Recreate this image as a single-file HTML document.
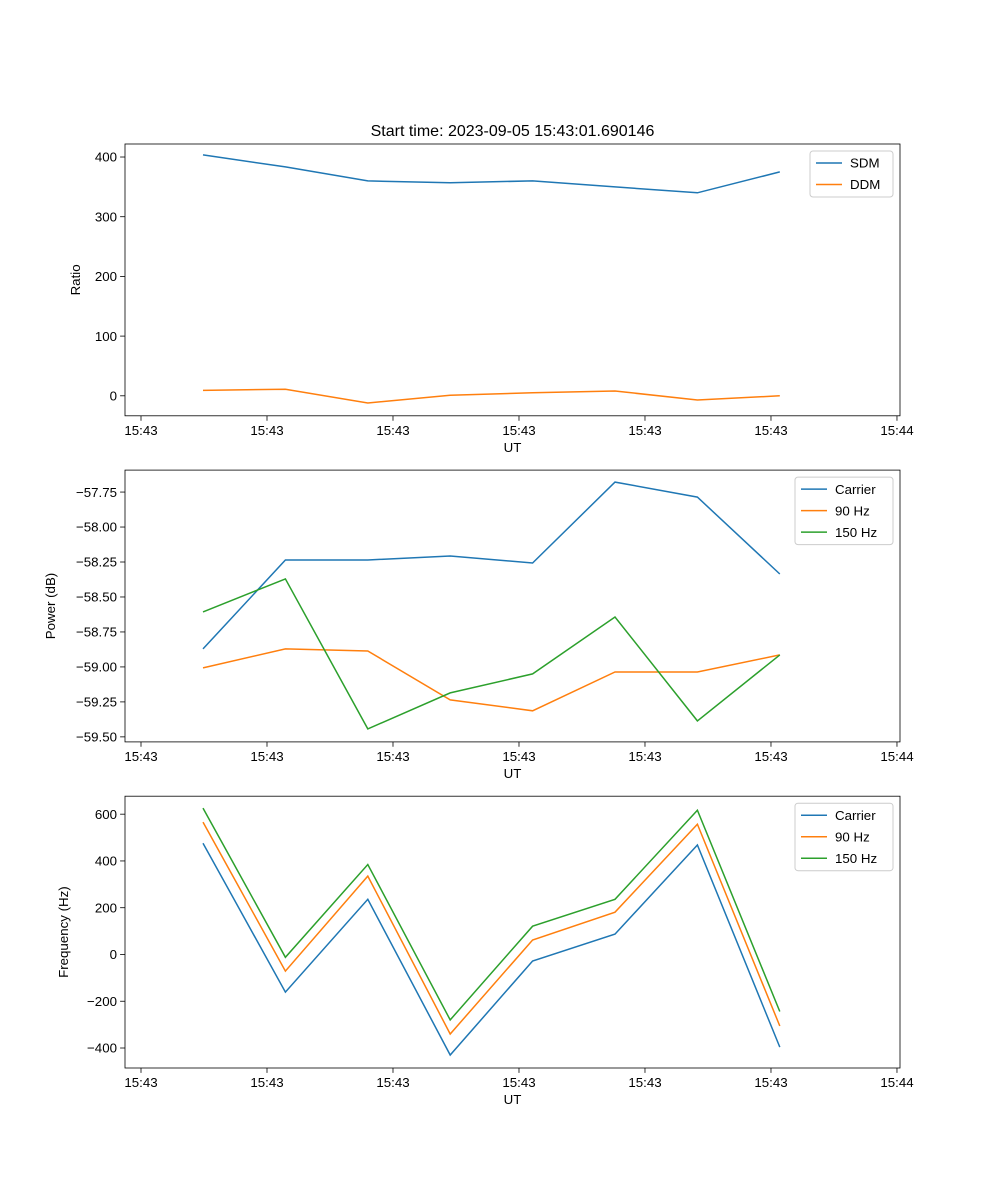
<!DOCTYPE html>
<html><head><meta charset="utf-8"><style>
body{margin:0;background:#fff}
svg{display:block;font-family:"Liberation Sans","DejaVu Sans",sans-serif}
</style></head><body>
<svg id="fig" width="1000" height="1200" viewBox="0 0 1000 1200" xmlns="http://www.w3.org/2000/svg">
<rect width="1000" height="1200" fill="#fff"/>
<text x="512.5" y="136" text-anchor="middle" font-size="16">Start time: 2023-09-05 15:43:01.690146</text>
</svg>
<script>
const xTickVals=[0,1,2,3,4,5,6];
const xTickLabels=["15:43","15:43","15:43","15:43","15:43","15:43","15:44"];
const xPoints=[0.492,1.146,1.800,2.454,3.108,3.762,4.416,5.070];
const sdm=[403.5,383.5,360,357,360,350,340,375];
const ddm=[9,11,-12,1,5,8,-7,0];
const ratioTicks=[0,100,200,300,400];
const powCarrier=[-58.871,-58.236,-58.236,-58.207,-58.257,-57.679,-57.786,-58.336];
const pow90=[-59.007,-58.871,-58.886,-59.236,-59.314,-59.036,-59.036,-58.914];
const pow150=[-58.607,-58.371,-59.443,-59.186,-59.050,-58.643,-59.386,-58.914];
const powTicks=[-59.5,-59.25,-59.0,-58.75,-58.5,-58.25,-58.0,-57.75];
const freqCarrier=[476,-161,236,-430,-28,87,468,-396];
const freq90=[566,-71,335,-340,62,181,557,-306];
const freq150=[626,-12,385,-280,121,236,617,-244];
const freqTicks=[-400,-200,0,200,400,600];

const NS="http://www.w3.org/2000/svg";
const svg=document.getElementById('fig');
const C=["#1f77b4","#ff7f0e","#2ca02c"];
function mk(tag,attrs,parent){const e=document.createElementNS(NS,tag);for(const k in attrs)e.setAttribute(k,attrs[k]);(parent||svg).appendChild(e);return e;}
const L=125,R=900,xmin=-0.127,xmax=6.024;
function sx(v){return L+(v-xmin)/(xmax-xmin)*(R-L);}
function fmt(v,dec){const s=Math.abs(v).toFixed(dec);return (v<0?"\u2212":"")+s;}

function panel(name,top,bot,ymin,ymax,ticks,dec,ylabel,ylx,series,labels,legW){
  const g=mk('g',{});
  
  
  const sy=v=>bot-(v-ymin)/(ymax-ymin)*(bot-top);
  xTickVals.forEach((v,i)=>{
    const x=sx(v);
    const t=mk('line',{x1:x,x2:x,y1:bot,y2:bot+4.9,stroke:"#000","stroke-width":0.8},g);
    
    
    const tx=mk('text',{x:x,y:bot+19,"text-anchor":"middle","font-size":13.3},g);
    
    
    tx.textContent=xTickLabels[i];
  });
  ticks.forEach(v=>{
    const y=sy(v);
    const t=mk('line',{x1:L-4.9,x2:L,y1:y,y2:y,stroke:"#000","stroke-width":0.8},g);
    
    
    const tx=mk('text',{x:L-8,y:y+4.7,"text-anchor":"end","font-size":13.3},g);
    
    
    tx.textContent=fmt(v,dec);
  });
  const xl=mk('text',{x:(L+R)/2,y:bot+36,"text-anchor":"middle","font-size":13.3},g);
  
  
  xl.textContent="UT";
  const yl=mk('text',{x:ylx,y:(top+bot)/2,"text-anchor":"middle","font-size":13.3,transform:`rotate(-90 ${ylx} ${(top+bot)/2})`},g);
  
  
  yl.textContent=ylabel;
  series.forEach((s,k)=>{
    const pts=s.map((v,i)=>sx(xPoints[i]).toFixed(1)+","+sy(v).toFixed(1)).join(" ");
    const p=mk('polyline',{points:pts,fill:"none",stroke:C[k],"stroke-width":1.5},g);
    
    
  });
  const fr=mk('rect',{x:L,y:top,width:R-L,height:bot-top,fill:"none",stroke:"#000","stroke-width":0.8},g);
  
  
  const lg=mk('g',{},g);
  
  
  const lx=893-legW, ly=top+7;
  mk('rect',{x:lx,y:ly,width:legW,height:labels.length*21.5+3,rx:3,fill:"#fff",stroke:"#ccc","stroke-width":1},lg);
  labels.forEach((lab,k)=>{
    const y=ly+12+k*21.5;
    const e=mk('g',{},lg);
    
    
    mk('line',{x1:lx+6,x2:lx+32,y1:y,y2:y,stroke:C[k],"stroke-width":1.5},e);
    const t=mk('text',{x:lx+40,y:y+4.7,"font-size":13.3},e);
    t.textContent=lab;
  });
}
panel('ratio-panel',144,415.8,-33.5,421.8,ratioTicks,0,"Ratio",80,[sdm,ddm],["SDM","DDM"],83);
panel('power-panel',470.1,741.9,-59.536,-57.593,powTicks,2,"Power (dB)",55,[powCarrier,pow90,pow150],["Carrier","90 Hz","150 Hz"],98);
panel('frequency-panel',796.2,1068,-485.5,676.9,freqTicks,0,"Frequency (Hz)",68,[freqCarrier,freq90,freq150],["Carrier","90 Hz","150 Hz"],98);
</script>
</body></html>
